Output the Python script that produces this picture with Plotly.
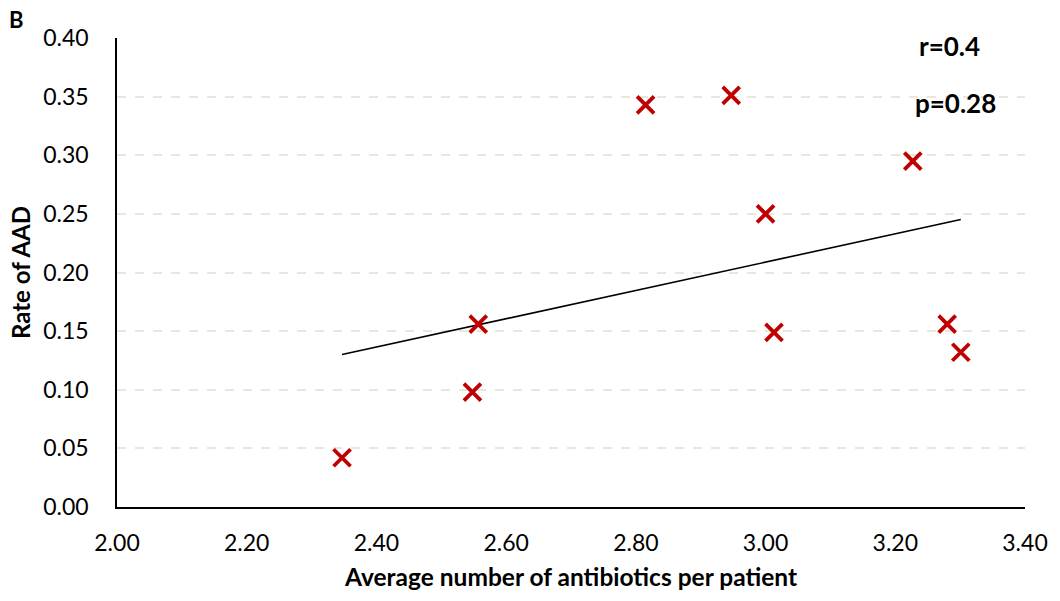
import numpy as np
import plotly.graph_objects as go

# Average number of antibiotics per patient vs. rate of AAD
avg_antibiotics = [2.347, 2.548, 2.557, 2.815, 2.947, 3.000, 3.013, 3.227, 3.280, 3.301]
aad_rate = [0.042, 0.098, 0.156, 0.343, 0.351, 0.250, 0.149, 0.295, 0.156, 0.132]

x_ticks = [2.00, 2.20, 2.40, 2.60, 2.80, 3.00, 3.20, 3.40]
y_ticks = [0.00, 0.05, 0.10, 0.15, 0.20, 0.25, 0.30, 0.35, 0.40]

# Least-squares linear trend line across the observed range
slope, intercept = np.polyfit(avg_antibiotics, aad_rate, 1)
trend_x = [min(avg_antibiotics), max(avg_antibiotics)]
trend_y = [slope * v + intercept for v in trend_x]

FONT = "Lato, 'Open Sans', sans-serif"
RED = "#c00000"

fig = go.Figure()
fig.add_trace(go.Scatter(
    x=trend_x, y=trend_y, mode="lines",
    line=dict(color="black", width=1.6),
    hoverinfo="skip", showlegend=False,
))
fig.add_trace(go.Scatter(
    x=avg_antibiotics, y=aad_rate, mode="markers",
    marker=dict(symbol="x-thin-open", size=17, color=RED,
                line=dict(color=RED, width=3.8)),
    showlegend=False,
))

L, R, T, B = 117, 33, 38, 94
fig.update_layout(
    width=1060, height=601,
    margin=dict(l=L, r=R, t=T, b=B),
    paper_bgcolor="white", plot_bgcolor="white",
    font=dict(family=FONT, size=23, color="black"),
    xaxis=dict(
        range=[2.0, 3.4], tickvals=x_ticks,
        ticktext=[f"{v:.2f}" for v in x_ticks],
        showgrid=False, zeroline=False,
        showline=True, linecolor="black", linewidth=1.5,
        ticks="", ticklabelstandoff=15,
        title=dict(text="<b>Average number of antibiotics per patient</b>",
                   font=dict(size=24.5), standoff=14),
    ),
    yaxis=dict(
        range=[0.0, 0.4], tickvals=y_ticks,
        ticktext=[f"{v:.2f}" for v in y_ticks],
        showgrid=True, gridcolor="#ebe6da", griddash="dash", gridwidth=1.5,
        zeroline=False,
        showline=True, linecolor="black", linewidth=1.5,
        ticks="", ticklabelstandoff=22,
        title=dict(text="<b>Rate of AAD</b>", font=dict(size=24), standoff=6),
    ),
)

pw = 1060 - L - R
ph = 601 - T - B


def px_to_paper(px, py):
    return (px - L) / pw, 1 - (py - T) / ph


for text, px, py, size in [("<b>r=0.4</b>", 951, 46, 26),
                           ("<b>p=0.28</b>", 957, 103, 26),
                           ("<b>B</b>", 16, 20, 22)]:
    ax, ay = px_to_paper(px, py)
    fig.add_annotation(text=text, x=ax, y=ay, xref="paper", yref="paper",
                       xanchor="center", yanchor="middle", showarrow=False,
                       font=dict(size=size))

fig.write_html("out.html")
